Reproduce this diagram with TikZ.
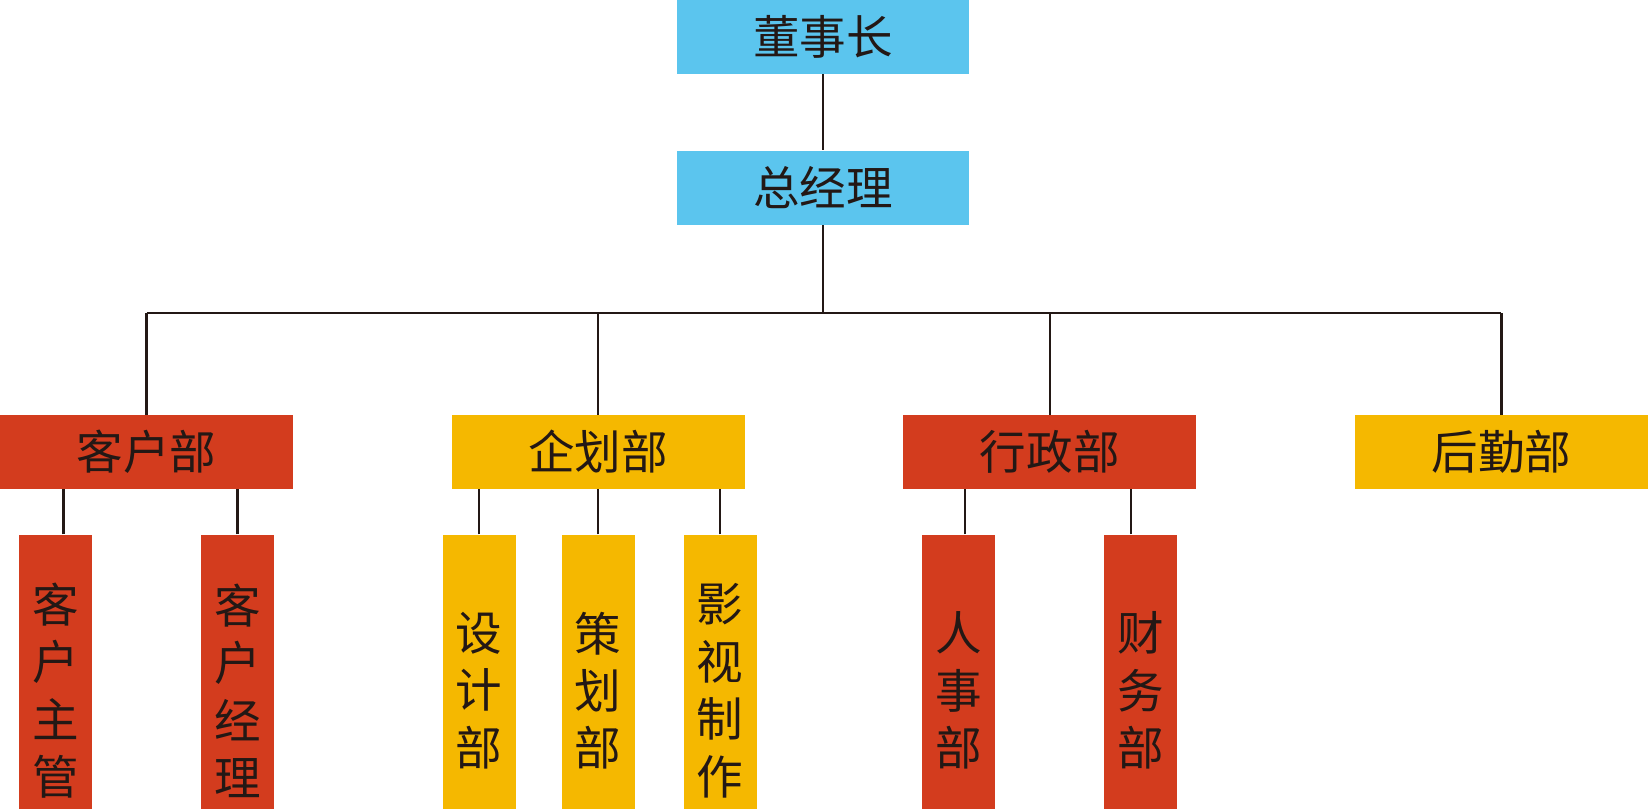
\documentclass[tikz,border=0pt]{standalone}
\usepackage{fontspec}
\newfontfamily\cjk{Noto Sans CJK SC}
\usetikzlibrary{positioning}
\definecolor{boardblue}{HTML}{5BC5EE}
\definecolor{deptred}{HTML}{D33C1E}
\definecolor{deptyellow}{HTML}{F5B800}
\definecolor{inkblack}{HTML}{231815}

\begin{document}
\begin{tikzpicture}[%
    x=0.02cm,
    y=-0.02cm,
    top/.style={%
        fill=boardblue,
        minimum width=5.84cm,
        minimum height=1.48cm,
        inner sep=0pt,
        text=inkblack,
        font=\cjk\fontsize{26.5}{32}\selectfont
    },
    dept/.style={%
        minimum width=5.86cm,
        minimum height=1.48cm,
        inner sep=0pt,
        text=inkblack,
        font=\cjk\fontsize{26.5}{32}\selectfont
    },
    sub/.style={%
        minimum width=1.46cm,
        minimum height=6.24cm,
        inner sep=0pt,
        align=center,
        text=inkblack,
        font=\cjk\fontsize{26.5}{32.7}\selectfont
    },
    link/.style={%
        draw=inkblack,
        line width=1.3pt
    }
]

\useasboundingbox (0,0) rectangle (1649,808);
\clip (0,0) rectangle (1649,808);

% Top
\node[top] (dsz) at (823,37) {董事长};
\node[top, below=1.52cm of dsz] (zjl) {总经理};

% Departments
\node[dept, fill=deptred] (khb) at (146.5,452) {客户部};
\node[dept, fill=deptyellow, right=3.16cm of khb] (qhb) {企划部};
\node[dept, fill=deptred, right=3.16cm of qhb] (xzb) {行政部};
\node[dept, fill=deptyellow, right=3.16cm of xzb] (hqb) {后勤部};

% Sections
\node[sub, fill=deptred, below right=0.9cm and 0.38cm of khb.south west] (khzg) {客\\户\\主\\管};
\node[sub, fill=deptred, below right=0.9cm and 4.02cm of khb.south west] (khjl) {客\\户\\经\\理};
\node[sub, fill=deptyellow, below right=0.9cm and -0.18cm of qhb.south west] (sjb) {设\\计\\部};
\node[sub, fill=deptyellow, below=0.9cm of qhb] (chb) {策\\划\\部};
\node[sub, fill=deptyellow, below right=0.9cm and 4.64cm of qhb.south west] (yszz) {影\\视\\制\\作};
\node[sub, fill=deptred, below right=0.9cm and 0.38cm of xzb.south west] (rsb) {人\\事\\部};
\node[sub, fill=deptred, below right=0.9cm and 4.02cm of xzb.south west] (cwb) {财\\务\\部};

% Lines
\coordinate (bus) at (823,313);
\draw[link] (dsz) -- (zjl);
\draw[link] (zjl) -- (bus);
\draw[link, line width=1.6pt] (khb.north |- bus) -- (hqb.north |- bus);
\foreach \d in {khb,qhb,xzb,hqb}
    \draw[link] (\d) -- (\d.north |- bus);

\draw[link] ([xshift=0.16cm]khzg.north) -- ([xshift=0.16cm]khzg.north |- khb.south);
\draw[link] (khjl) -- (khjl.north |- khb.south);
\draw[link] (sjb) -- (sjb.north |- qhb.south);
\draw[link] (chb) -- (qhb);
\draw[link] (yszz) -- (yszz.north |- qhb.south);
\draw[link] ([xshift=0.12cm]rsb.north) -- ([xshift=0.12cm]rsb.north |- xzb.south);
\draw[link] ([xshift=-0.2cm]cwb.north) -- ([xshift=-0.2cm]cwb.north |- xzb.south);

\end{tikzpicture}
\end{document}
